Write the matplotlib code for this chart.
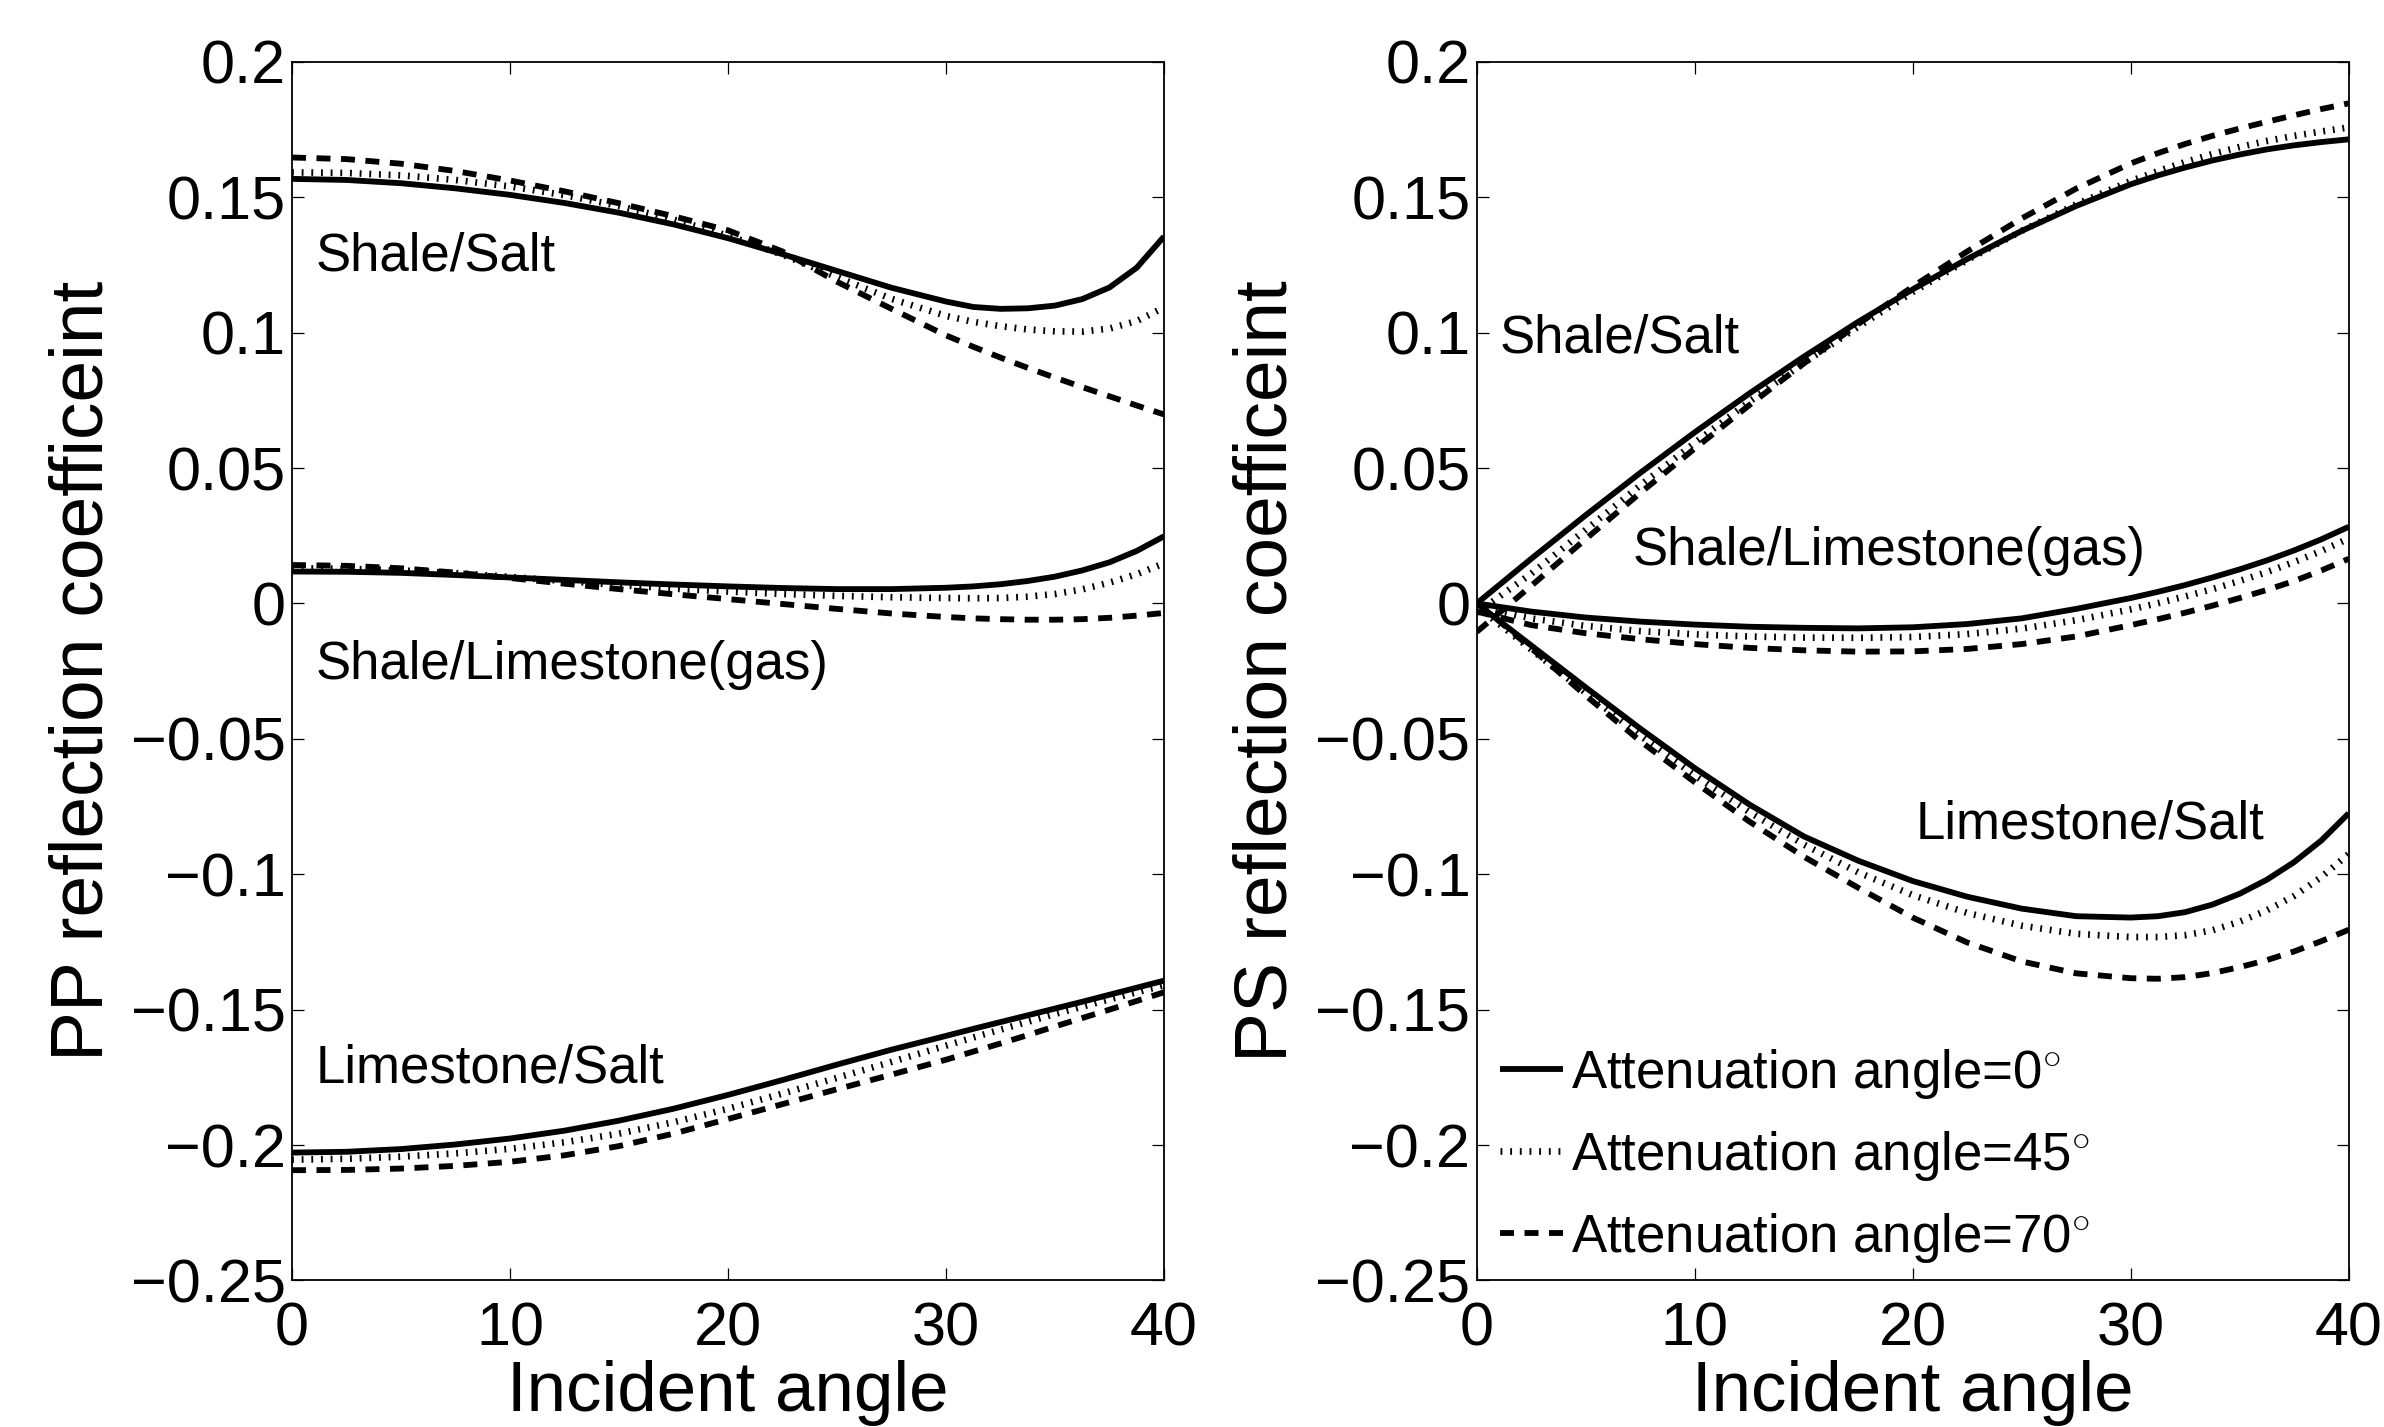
import matplotlib
matplotlib.use("Agg")
import matplotlib.pyplot as plt
from matplotlib import font_manager as fm

# ---------------- data ----------------
incident_angle = [0, 2.5, 5, 7.5, 10, 12.5, 15, 17.5, 20, 22.5, 25, 27.5, 30,
                  31.25, 32.5, 33.75, 35, 36.25, 37.5, 38.75, 40]

# PP reflection coefficient
pp_shale_salt_0 = [0.1568, 0.1564, 0.1552, 0.1533, 0.1509, 0.1479, 0.1443, 0.1400, 0.1349, 0.1290, 0.1228, 0.1166, 0.1115,
                   0.1095, 0.1088, 0.1090, 0.1100, 0.1124, 0.1167, 0.1240, 0.1355]
pp_shale_salt_45 = [0.1592, 0.1590, 0.1581, 0.1564, 0.1540, 0.1508, 0.1468, 0.1418, 0.1358, 0.1288, 0.1205, 0.1125, 0.1062,
                    0.1040, 0.1024, 0.1012, 0.1005, 0.1004, 0.1015, 0.1043, 0.1093]
pp_shale_salt_70 = [0.1647, 0.1641, 0.1624, 0.1597, 0.1562, 0.1522, 0.1478, 0.1430, 0.1378, 0.1300, 0.1188, 0.1088, 0.0990,
                    0.0948, 0.0908, 0.0870, 0.0834, 0.0799, 0.0765, 0.0731, 0.0698]

pp_shale_lime_0 = [0.0118, 0.0117, 0.0113, 0.0105, 0.0096, 0.0087, 0.0078, 0.0070, 0.0063, 0.0057, 0.0053, 0.0053, 0.0058,
                   0.0063, 0.0071, 0.0083, 0.0099, 0.0122, 0.0152, 0.0194, 0.0248]
pp_shale_lime_45 = [0.0130, 0.0128, 0.0122, 0.0112, 0.0098, 0.0083, 0.0068, 0.0055, 0.0044, 0.0035, 0.0028, 0.0023, 0.0020,
                    0.0019, 0.0020, 0.0025, 0.0035, 0.0052, 0.0077, 0.0108, 0.0148]
pp_shale_lime_70 = [0.0142, 0.0139, 0.0130, 0.0114, 0.0094, 0.0073, 0.0053, 0.0034, 0.0016, -0.0002, -0.0020, -0.0037, -0.0050,
                    -0.0055, -0.0058, -0.0060, -0.0060, -0.0058, -0.0053, -0.0045, -0.0035]

pp_lime_salt_0 = [-0.2028, -0.2025, -0.2015, -0.1998, -0.1976, -0.1947, -0.1910, -0.1866, -0.1815, -0.1760, -0.1703, -0.1648, -0.1597,
                  -0.1571, -0.1546, -0.1521, -0.1496, -0.1471, -0.1445, -0.1419, -0.1393]
pp_lime_salt_45 = [-0.2054, -0.2051, -0.2043, -0.2031, -0.2014, -0.1990, -0.1958, -0.1916, -0.1866, -0.1810, -0.1752, -0.1693, -0.1633,
                   -0.1603, -0.1574, -0.1545, -0.1516, -0.1489, -0.1462, -0.1436, -0.1410]
pp_lime_salt_70 = [-0.2093, -0.2092, -0.2087, -0.2077, -0.2062, -0.2038, -0.2004, -0.1958, -0.1904, -0.1849, -0.1794, -0.1740, -0.1685,
                   -0.1655, -0.1625, -0.1594, -0.1562, -0.1531, -0.1500, -0.1468, -0.1436]

# PS reflection coefficient
ps_shale_salt_0 = [0.0, 0.0165, 0.0326, 0.0482, 0.0632, 0.0775, 0.0911, 0.1040, 0.1160, 0.1272, 0.1376, 0.1468, 0.1548,
                   0.1581, 0.1610, 0.1636, 0.1658, 0.1677, 0.1692, 0.1704, 0.1714]
ps_shale_salt_45 = [-0.0035, 0.0110, 0.0272, 0.0436, 0.0593, 0.0745, 0.0888, 0.1022, 0.1150, 0.1268, 0.1376, 0.1474, 0.1560,
                    0.1597, 0.1630, 0.1660, 0.1686, 0.1708, 0.1727, 0.1743, 0.1758]
ps_shale_salt_70 = [-0.0105, 0.0065, 0.0238, 0.0408, 0.0572, 0.0732, 0.0886, 0.1032, 0.1170, 0.1300, 0.1422, 0.1532, 0.1625,
                    0.1663, 0.1697, 0.1727, 0.1754, 0.1779, 0.1803, 0.1826, 0.1847]

ps_shale_lime_0 = [0.0, -0.0030, -0.0052, -0.0067, -0.0078, -0.0086, -0.0090, -0.0092, -0.0088, -0.0076, -0.0055, -0.0020, 0.0020,
                   0.0043, 0.0068, 0.0096, 0.0126, 0.0159, 0.0196, 0.0237, 0.0283]
ps_shale_lime_45 = [-0.0010, -0.0055, -0.0083, -0.0102, -0.0114, -0.0122, -0.0126, -0.0127, -0.0124, -0.0113, -0.0093, -0.0062, -0.0022,
                    0.0001, 0.0026, 0.0053, 0.0083, 0.0116, 0.0153, 0.0194, 0.0240]
ps_shale_lime_70 = [-0.0030, -0.0080, -0.0110, -0.0132, -0.0150, -0.0164, -0.0173, -0.0178, -0.0177, -0.0168, -0.0150, -0.0122, -0.0080,
                    -0.0058, -0.0034, -0.0008, 0.0020, 0.0050, 0.0083, 0.0122, 0.0165]

ps_lime_salt_0 = [0.0, -0.0155, -0.0310, -0.0462, -0.0608, -0.0742, -0.0860, -0.0950, -0.1025, -0.1083, -0.1127, -0.1155, -0.1160,
                  -0.1155, -0.1140, -0.1112, -0.1072, -0.1020, -0.0955, -0.0875, -0.0775]
ps_lime_salt_45 = [-0.0010, -0.0170, -0.0330, -0.0488, -0.0635, -0.0770, -0.0890, -0.0993, -0.1077, -0.1143, -0.1190, -0.1220, -0.1232,
                   -0.1232, -0.1225, -0.1207, -0.1175, -0.1133, -0.1080, -0.1010, -0.0925]
ps_lime_salt_70 = [0.0005, -0.0165, -0.0340, -0.0508, -0.0660, -0.0805, -0.0935, -0.1050, -0.1160, -0.1252, -0.1322, -0.1366, -0.1384,
                   -0.1386, -0.1380, -0.1365, -0.1343, -0.1317, -0.1285, -0.1247, -0.1205]

attenuation_labels = [r"Attenuation angle=0$^{\circ}$",
                      r"Attenuation angle=45$^{\circ}$",
                      r"Attenuation angle=70$^{\circ}$"]

x_ticks = [0, 10, 20, 30, 40]
x_tick_labels = ["0", "10", "20", "30", "40"]
y_ticks = [0.2, 0.15, 0.1, 0.05, 0, -0.05, -0.1, -0.15, -0.2, -0.25]
y_tick_labels = ["0.2", "0.15", "0.1", "0.05", "0", "\u22120.05", "\u22120.1", "\u22120.15", "\u22120.2", "\u22120.25"]

pp_annotations = [("Shale/Salt", 1.1, 0.123), ("Shale/Limestone(gas)", 1.1, -0.028), ("Limestone/Salt", 1.1, -0.177)]
ps_annotations = [("Shale/Salt", 1.06, 0.0927), ("Shale/Limestone(gas)", 7.16, 0.0143), ("Limestone/Salt", 20.14, -0.0867)]

# ---------------- style ----------------
names = {f.name for f in fm.fontManager.ttflist}
BASE = "Liberation Sans" if "Liberation Sans" in names else "DejaVu Sans"
NARROW = "Liberation Sans Narrow" if "Liberation Sans Narrow" in names else None

plt.rcParams["font.family"] = [BASE, "DejaVu Sans"]
plt.rcParams["mathtext.fontset"] = "custom"
plt.rcParams["mathtext.rm"] = BASE
plt.rcParams["mathtext.it"] = BASE
plt.rcParams["mathtext.bf"] = BASE

styles = [
    dict(color="black", lw=4.2, ls="-"),
    dict(color="black", lw=4.8, ls=(0, (0.28, 1.17))),
    dict(color="black", lw=4.2, ls=(0, (2.4, 1.8))),
]

fig = plt.figure(figsize=(23.84, 14.27), dpi=100)
ax_bottom, ax_height = 0.10273, 0.85389
ax1 = fig.add_axes([0.12248, ax_bottom, 0.36577, ax_height])
ax2 = fig.add_axes([0.61942, ax_bottom, 0.36577, ax_height])

pp_sets = [
    (pp_shale_salt_0, pp_shale_salt_45, pp_shale_salt_70),
    (pp_shale_lime_0, pp_shale_lime_45, pp_shale_lime_70),
    (pp_lime_salt_0, pp_lime_salt_45, pp_lime_salt_70),
]
ps_sets = [
    (ps_shale_salt_0, ps_shale_salt_45, ps_shale_salt_70),
    (ps_shale_lime_0, ps_shale_lime_45, ps_shale_lime_70),
    (ps_lime_salt_0, ps_lime_salt_45, ps_lime_salt_70),
]

legend_handles = []
for ax, sets in ((ax1, pp_sets), (ax2, ps_sets)):
    for k, group in enumerate(sets):
        for j, series in enumerate(group):
            ln, = ax.plot(incident_angle, series, solid_capstyle="butt", dash_capstyle="butt",
                          solid_joinstyle="round", **styles[j])
            if ax is ax2 and k == 0:
                legend_handles.append(ln)

if NARROW:
    ylab_kw = dict(family=[NARROW, "DejaVu Sans"], fontsize=64)
else:
    ylab_kw = dict(family=[BASE, "DejaVu Sans"], fontsize=54)

for ax, ylab, ann in ((ax1, "PP reflection coefficeint", pp_annotations),
                      (ax2, "PS reflection coefficeint", ps_annotations)):
    ax.set_xlim(0, 40)
    ax.set_ylim(-0.25, 0.2)
    ax.set_xticks(x_ticks)
    ax.set_xticklabels(x_tick_labels)
    ax.set_yticks(y_ticks)
    ax.set_yticklabels(y_tick_labels)
    ax.tick_params(axis="both", direction="in", length=8.6, width=0.9, top=True, right=True,
                   labelsize=44, colors="black")
    ax.tick_params(axis="x", pad=15)
    ax.tick_params(axis="y", pad=4.5)
    for sp in ax.spines.values():
        sp.set_linewidth(1.3)
    ax.set_xlabel("Incident angle", fontsize=51, va="top")
    ax.xaxis.set_label_coords(0.5, -0.0653)
    ax.set_ylabel(ylab, **ylab_kw)
    ax.yaxis.set_label_coords(-0.2005, 0.5)
    for s, x, y in ann:
        ax.text(x, y, s, fontsize=38, ha="left", va="baseline")

ax2.legend(legend_handles, attenuation_labels, loc="lower left", bbox_to_anchor=(0.0267, 0.013),
           frameon=False, fontsize=38, handlelength=1.19, handletextpad=0.165,
           labelspacing=0.53, borderpad=0.0, borderaxespad=0.0)

fig.savefig("out.png", dpi=100, facecolor="white")
